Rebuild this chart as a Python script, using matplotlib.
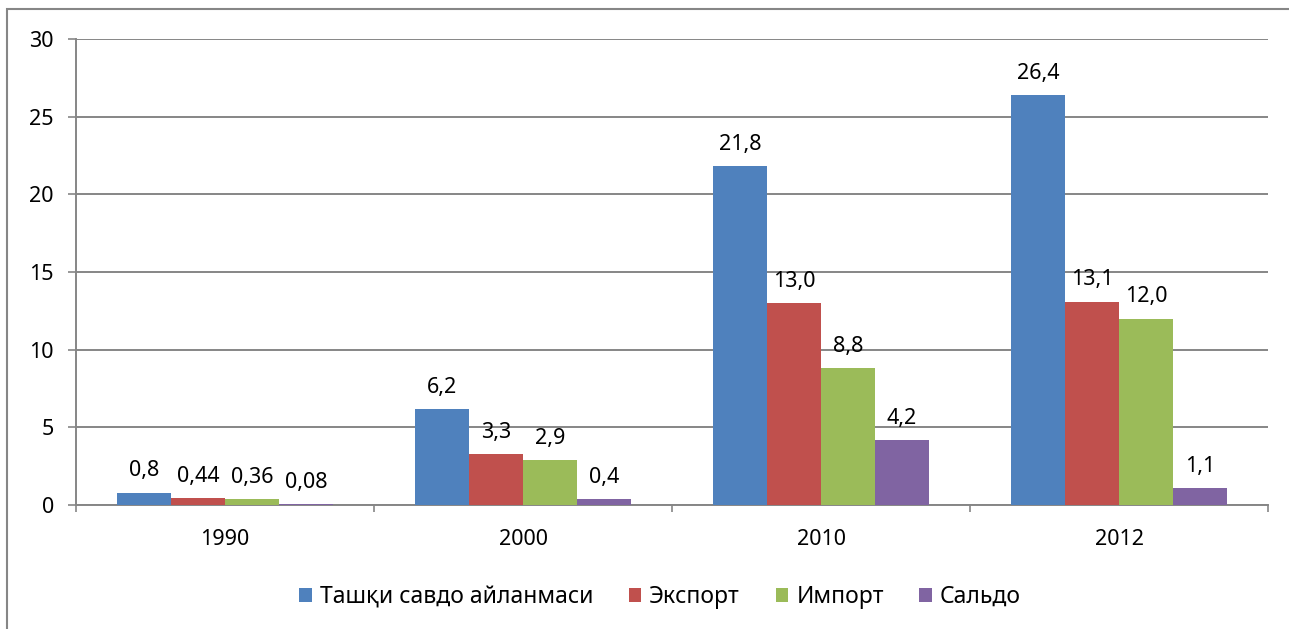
import matplotlib.pyplot as plt
import numpy as np
from matplotlib.patches import Rectangle

plt.rcParams['font.family'] = ['Noto Sans', 'DejaVu Sans']

years = ["1990", "2000", "2010", "2012"]
series = ["Ташқи савдо айланмаси", "Экспорт", "Импорт", "Сальдо"]
turnover = [0.8, 6.2, 21.8, 26.4]
export = [0.44, 3.3, 13.0, 13.1]
imports = [0.36, 2.9, 8.8, 12.0]
saldo = [0.08, 0.4, 4.2, 1.1]
labels = [
    ["0,8", "6,2", "21,8", "26,4"],
    ["0,44", "3,3", "13,0", "13,1"],
    ["0,36", "2,9", "8,8", "12,0"],
    ["0,08", "0,4", "4,2", "1,1"],
]
colors = ["#4F81BD", "#C0504D", "#9BBB59", "#8064A2"]

fig = plt.figure(figsize=(12.89, 6.29), dpi=100)
ax = fig.add_axes([76 / 1289, 1 - 505 / 629, (1268 - 76) / 1289, (505 - 39) / 629])

# outer chart frame
fig.patches.append(Rectangle((7 / 1289, -0.1), 1.2, 1 - 9 / 629 + 0.1,
                             transform=fig.transFigure, fill=False,
                             edgecolor="#868686", linewidth=1.5))

x = np.arange(len(years))
w = 54 / 298
data = [turnover, export, imports, saldo]
for i, vals in enumerate(data):
    pos = x - 1.5 * w + i * w
    ax.bar(pos, vals, width=w, color=colors[i], label=series[i], zorder=3)
    for p, v, t in zip(pos, vals, labels[i]):
        ax.annotate(t, (p, v), xytext=(0, 8), textcoords="offset points",
                    ha="center", va="bottom", fontsize=15.5)

ax.set_xlim(-0.5, 3.5)
ax.set_ylim(0, 30)
ax.set_yticks([0, 5, 10, 15, 20, 25, 30])
ax.set_xticks(x)
ax.set_xticklabels(years)
ax.set_xticks(np.arange(-0.5, 4, 1), minor=True)
ax.tick_params(axis="x", which="major", length=0, pad=17, labelsize=15.5)
ax.tick_params(axis="x", which="minor", length=5, color="#868686", width=1.2)
ax.tick_params(axis="y", length=6, color="#868686", width=1.2, labelsize=15.5, pad=10)
ax.yaxis.grid(True, color="#868686", linewidth=1.4, zorder=0)
for s in ["top", "right"]:
    ax.spines[s].set_visible(False)
for s in ["left", "bottom"]:
    ax.spines[s].set_color("#868686")
    ax.spines[s].set_linewidth(1.4)

fig.legend(loc="center", bbox_to_anchor=(660 / 1289, 1 - 597 / 629), ncol=4,
           frameon=False, prop={"family": ["Liberation Sans Narrow", "Noto Sans"], "size": 16.5},
           handlelength=0.55, handleheight=0.55,
           handletextpad=0.35, columnspacing=1.55)

fig.savefig("out.png", dpi=100)
